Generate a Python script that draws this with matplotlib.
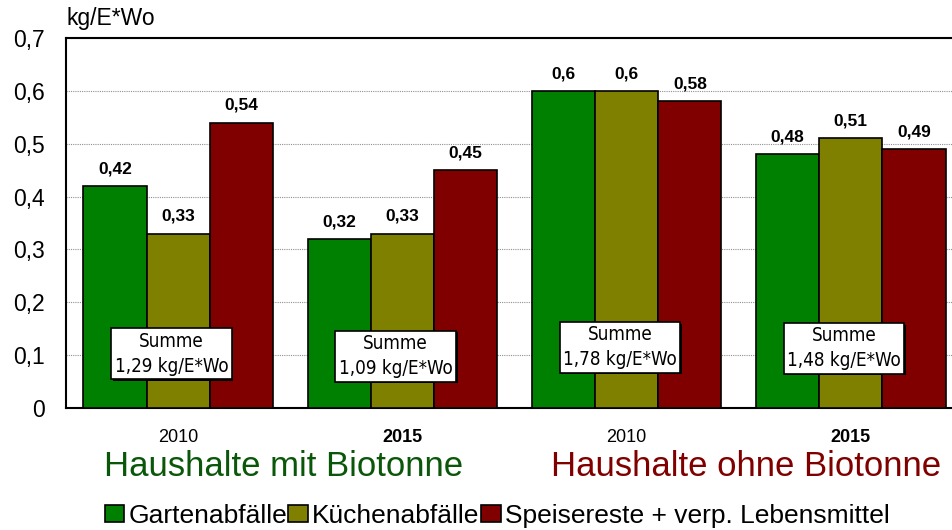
import matplotlib
matplotlib.use("Agg")
import matplotlib.pyplot as plt
import matplotlib.patheffects as pe
from matplotlib.patches import Patch
import numpy as np

plt.rcParams['font.family'] = ['Liberation Sans', 'DejaVu Sans']

years = ["2010", "2015", "2010", "2015"]
year_bold = [False, True, False, True]
groups = ["Haushalte mit Biotonne", "Haushalte ohne Biotonne"]
group_colors = ["#0a570a", "#800000"]
series = ["Gartenabfälle", "Küchenabfälle", "Speisereste + verp. Lebensmittel"]
colors = ["#008000", "#808000", "#800000"]
garten = [0.42, 0.32, 0.60, 0.48]
kueche = [0.33, 0.33, 0.60, 0.51]
speise = [0.54, 0.45, 0.58, 0.49]
summen = ["1,29", "1,09", "1,78", "1,48"]
summe_y = [0.103, 0.098, 0.115, 0.113]
yticks = [0, 0.1, 0.2, 0.3, 0.4, 0.5, 0.6, 0.7]
ytick_labels = ["0", "0,1", "0,2", "0,3", "0,4", "0,5", "0,6", "0,7"]
unit = "kg/E*Wo"

fig = plt.figure(figsize=(9.53, 5.30), dpi=100)
ax = fig.add_axes([66/953, (530-408)/530, (963-66)/953, (408-38)/530])

x = np.arange(len(years))
w = 0.282
vals = [garten, kueche, speise]
for i, (v, c) in enumerate(zip(vals, colors)):
    xs = x + (i - 1) * w
    ax.bar(xs, v, width=w, color=c, edgecolor='black', linewidth=1.2, zorder=3)
    for xi, vi in zip(xs, v):
        lab = ("%g" % vi).replace('.', ',')
        ax.annotate(lab, (xi, vi), xytext=(0, 7), textcoords='offset points',
                    ha='center', va='bottom', fontsize=12.5, fontweight='bold', zorder=5)

for xi, s, sy in zip(x, summen, summe_y):
    t = ax.text(xi - 0.03, sy, "Summe\n%s kg/E*Wo" % s, ha='center', va='center',
                fontsize=13.5, family='DejaVu Sans', fontstretch='condensed',
                linespacing=1.4, zorder=6,
                bbox=dict(boxstyle='square,pad=0.18', fc='white', ec='black', lw=1.2))
    t.get_bbox_patch().set_path_effects([pe.SimplePatchShadow(offset=(1.2, -1.2), shadow_rgbFace='black', alpha=1.0), pe.Normal()])

ax.set_xlim(-0.5, 3.5)
ax.set_ylim(0, 0.7)
ax.set_yticks(yticks)
ax.set_yticklabels(ytick_labels, fontsize=16.5)
ax.set_xticks(x)
ax.set_xticklabels(years, fontsize=13)
for lbl, b in zip(ax.get_xticklabels(), year_bold):
    if b:
        lbl.set_fontweight('bold')
ax.tick_params(axis='y', length=0, pad=15)
ax.tick_params(axis='x', length=0, pad=15)
ax.yaxis.grid(True, linestyle=(0, (1, 1)), color='#909090', linewidth=0.8, zorder=0)
ax.set_axisbelow(True)
for sp in ['left', 'top', 'bottom']:
    ax.spines[sp].set_linewidth(1.5)
ax.spines['right'].set_visible(False)

fig.text(66/953, 1 - 18/530, unit, ha='left', va='center', fontsize=16.5)
fig.text(284/953, 1 - 467/530, groups[0], color=group_colors[0], ha='center', va='center', fontsize=25)
fig.text(746/953, 1 - 467/530, groups[1], color=group_colors[1], ha='center', va='center', fontsize=25)

handles = [Patch(facecolor=c, edgecolor='black', linewidth=1.2) for c in colors]
fig.legend(handles, series, loc='center', bbox_to_anchor=(497/953, 1 - 516/530), ncol=3,
           frameon=False, fontsize=19, handlelength=0.75, handleheight=0.6,
           handletextpad=0.15, columnspacing=0.05, borderpad=0)

fig.savefig("out.png", dpi=100)
